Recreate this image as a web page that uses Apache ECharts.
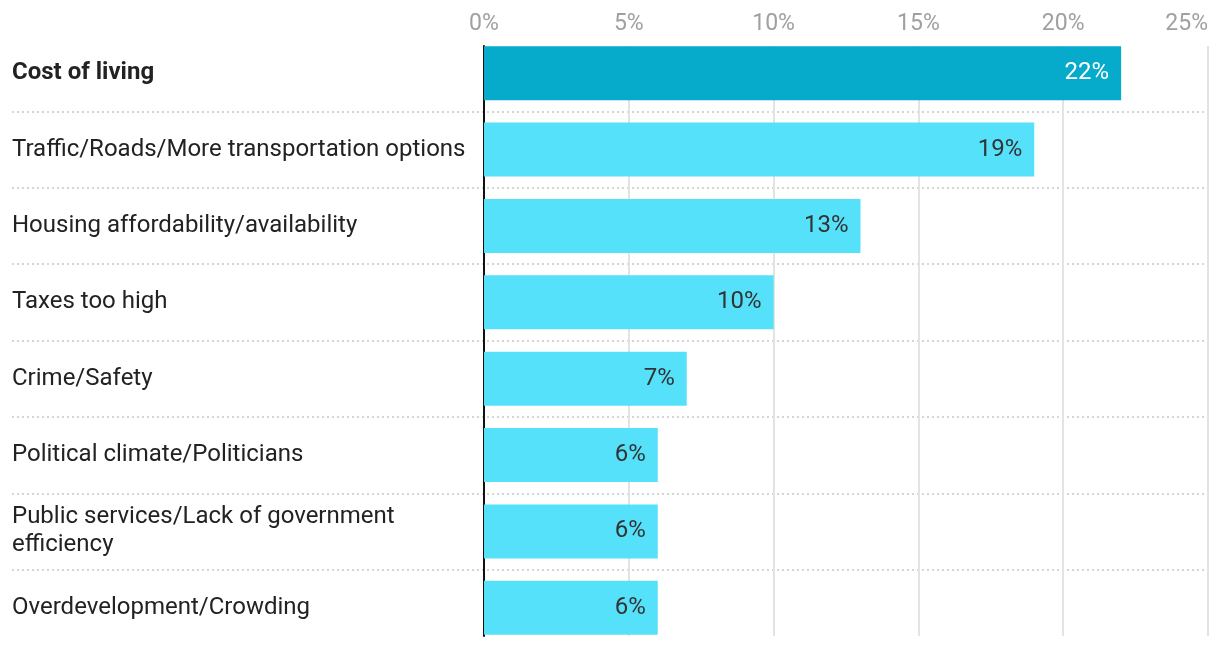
<!DOCTYPE html>
<html>
<head>
<meta charset="utf-8">
<script src="https://cdn.jsdelivr.net/npm/echarts@6/dist/echarts.min.js"></script>
<style>
html,body{margin:0;padding:0;background:#fff;}
#c{width:1220px;height:646px;}
</style>
</head>
<body>
<div id="c"></div>
<script>
const categories = [
  "Cost of living",
  "Traffic/Roads/More transportation options",
  "Housing affordability/availability",
  "Taxes too high",
  "Crime/Safety",
  "Political climate/Politicians",
  "Public services/Lack of government efficiency",
  "Overdevelopment/Crowding"
];
const values = [22, 19, 13, 10, 7, 6, 6, 6];
const tickValues = [0, 5, 10, 15, 20, 25];

const FONT = 'Roboto, "Noto Sans", sans-serif';
const chart = echarts.init(document.getElementById('c'));

const BAR_TOP = 35, BAR_H = 612;

chart.setOption({
  animation: false,
  textStyle: { fontFamily: FONT },
  grid: [
    { left: 484, right: 12, top: BAR_TOP, height: BAR_H },   // bars
    { left: 12, right: 12, top: BAR_TOP, height: BAR_H },    // separators + labels
    { left: 484, right: 12, top: 46, bottom: 10 }            // gridlines + ticks + axis line
  ],
  xAxis: [
    { gridIndex: 0, type: 'value', min: 0, max: 25, show: false },
    { gridIndex: 1, type: 'value', min: 0, max: 1, show: false },
    {
      gridIndex: 2, type: 'value', min: tickValues[0], max: tickValues[tickValues.length - 1], interval: 5,
      position: 'top',
      axisLine: { show: false }, axisTick: { show: false },
      axisLabel: {
        formatter: v => v + '%', color: '#a0a0a0', fontSize: 23, margin: 10,
        fontFamily: FONT, alignMaxLabel: 'right'
      },
      splitLine: { show: true, lineStyle: { color: '#e3e3e3', width: 2 } }
    }
  ],
  yAxis: [
    { gridIndex: 0, type: 'category', data: categories, inverse: true, show: false },
    {
      gridIndex: 1, type: 'category', data: categories, inverse: true,
      axisLine: { show: false }, axisTick: { show: false },
      axisLabel: {
        inside: true, margin: 0, align: 'left',
        fontSize: 24, color: '#222', fontFamily: FONT, lineHeight: 28,
        width: 482, overflow: 'break',
        formatter: (v, i) => i === 0 ? '{b|' + v + '}' : v,
        rich: { b: { fontWeight: 'bold', fontSize: 24, color: '#222', fontFamily: FONT } }
      },
      splitLine: {
        show: true, showMinLine: false, showMaxLine: false,
        lineStyle: { color: '#c8c8c8', width: 1.5, type: [2, 3] }
      }
    },
    {
      gridIndex: 2, type: 'value', min: 0, max: 1,
      axisLine: { show: true, onZero: false, lineStyle: { color: '#111', width: 2 } },
      axisTick: { show: false }, axisLabel: { show: false }, splitLine: { show: false }
    }
  ],
  series: [{
    type: 'bar',
    xAxisIndex: 0, yAxisIndex: 0,
    barWidth: 54,
    data: values.map((v, i) => ({
      value: v,
      itemStyle: { color: i === 0 ? '#06aaca' : '#55e1fa' },
      label: { color: i === 0 ? '#ffffff' : '#333333' }
    })),
    label: {
      show: true, position: 'insideRight', distance: 12,
      formatter: p => p.value + '%', fontSize: 24, fontFamily: FONT
    },
    z: 3
  }]
});
</script>
</body>
</html>
